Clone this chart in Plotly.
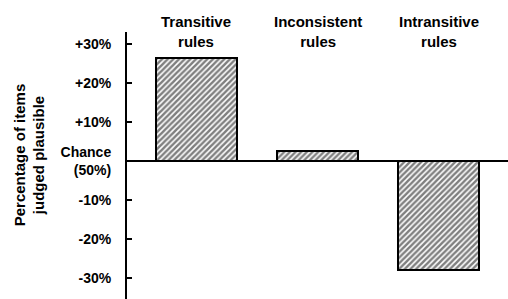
import plotly.graph_objects as go

categories = ["Transitive<br>rules", "Inconsistent<br>rules", "Intransitive<br>rules"]
values = [26.5, 2.5, -28]
tick_values = [30, 20, 10, 0, -10, -20, -30]
tick_labels = ["+30%", "+20%", "+10%", "Chance<br>(50%)", "-10%", "-20%", "-30%"]
y_title = "Percentage of items<br>judged plausible"

FONT = "Liberation Sans, Arial, sans-serif"
xpos = list(range(len(categories)))

fig = go.Figure()
fig.add_trace(go.Bar(
    x=xpos, y=values, width=0.67,
    marker=dict(color="white", line=dict(color="black", width=2),
                pattern=dict(shape="/", fgcolor="black", bgcolor="white",
                             size=4, solidity=0.62)),
    showlegend=False,
))

for xi, cat in zip(xpos, categories):
    fig.add_annotation(x=xi, y=1.0, xref="x", yref="paper", text="<b>%s</b>" % cat,
                       showarrow=False, yanchor="middle", xanchor="center", yshift=1,
                       font=dict(size=15, family=FONT, color="black"))

fig.add_annotation(x=-0.256, y=0.54, xref="paper", yref="paper", text="<b>%s</b>" % y_title,
                   textangle=-90, showarrow=False, xanchor="center", yanchor="middle",
                   font=dict(size=15, family=FONT, color="black"))

fig.update_layout(
    width=508, height=299,
    margin=dict(l=127, r=0, t=32, b=0, autoexpand=False),
    paper_bgcolor="white", plot_bgcolor="white",
    bargap=0,
    font=dict(family=FONT, size=14, color="black"),
    xaxis=dict(range=[-0.574, 2.574], showticklabels=False, showgrid=False,
               zeroline=False, showline=False, ticks=""),
    yaxis=dict(range=[-35.4, 33.1], tickvals=tick_values,
               ticktext=["<b>%s</b>" % t for t in tick_labels],
               ticks="inside", ticklen=5, tickwidth=2, tickcolor="black",
               showline=True, linewidth=2, linecolor="black",
               showgrid=False, zeroline=True, zerolinewidth=2, zerolinecolor="black",
               ticklabelstandoff=11, tickfont=dict(size=14, family=FONT, color="black")),
)

fig.write_html("out.html", config={"displayModeBar": False},
               post_script="document.body.style.margin='0';document.body.style.overflow='hidden';"
                           "document.documentElement.style.overflow='hidden';")
